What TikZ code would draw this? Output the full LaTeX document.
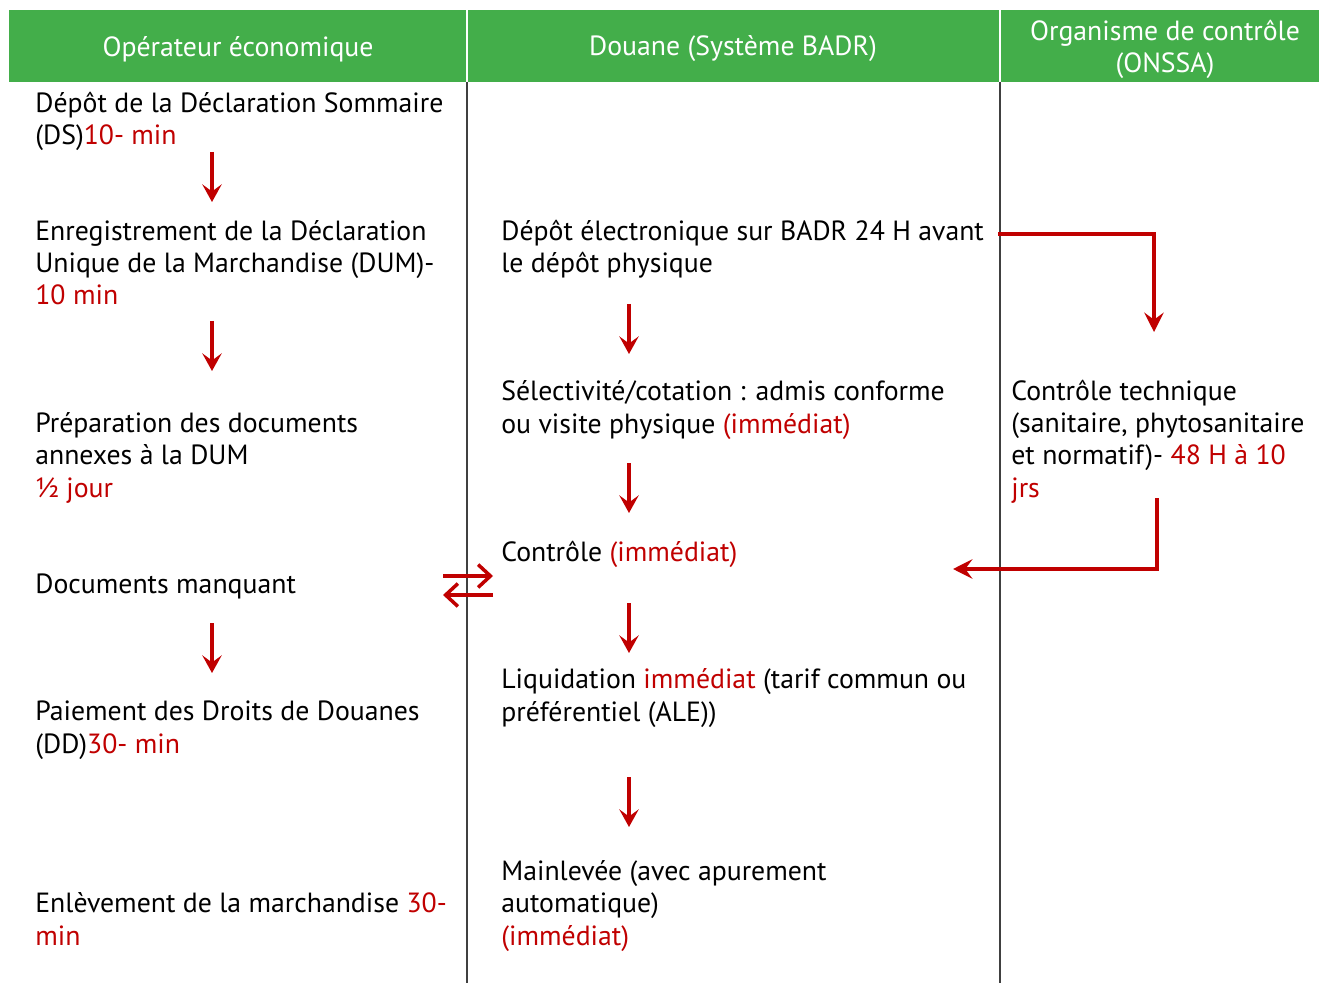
\documentclass[tikz,border=0pt]{standalone}
\usepackage{fontspec}
\setmainfont{PT Sans}
\usetikzlibrary{arrows.meta,positioning}
\definecolor{hdgreen}{HTML}{43AE4A}
\definecolor{tred}{HTML}{C00000}
\newcommand{\tm}[1]{\textcolor{tred}{#1}}
\tikzstyle{txt} = [anchor=base west, inner sep=0pt, align=left,
    font=\fontsize{15.8pt}{18.3pt}\selectfont]
\tikzstyle{hd} = [txt, anchor=center, align=center, text=white]
\tikzstyle{fl} = [draw=tred, line width=2.3pt, -{Stealth[length=10pt,width=11pt,inset=4pt]}]
\tikzstyle{sw} = [draw=tred, line width=2pt, -{Straight Barb[length=7pt,width=13pt]}]
\tikzstyle{el} = [draw=tred, line width=2.8pt, -{Stealth[length=11pt,width=11pt,inset=4pt]}]

\begin{document}
\begin{tikzpicture}[x=0.02cm,y=-0.02cm]
  \useasboundingbox (0,0) rectangle (1319,983);

  % header band and column rules
  \fill[hdgreen] (9,10) rectangle (1319,82);
  \draw[white,line width=1pt] (467,10) -- (467,82) (1000,10) -- (1000,82);
  \draw[black!75,line width=0.8pt] (467,82) -- (467,983) (1000,82) -- (1000,983);

  \node[hd] (h1) at (238,49)  {Opérateur économique};
  \node[hd] (h2) at (733,49)  {Douane (Système BADR)};
  \node[hd] (h3) at (1165,49) {Organisme de contrôle\\(ONSSA)};

  % operateur (base = last line)
  \node[txt] (1) at (35,145) {Dépôt de la Déclaration Sommaire\\(DS)\tm{10- min}};
  \node[txt] (2) at (35,305) {Enregistrement de la Déclaration\\Unique de la Marchandise (DUM)-\\\tm{10 min}};
  \node[txt] (3) at (35,497) {Préparation des documents\\annexes à la DUM\\\tm{½ jour}};
  \node[txt] (4) at (35,593) {Documents manquant};
  \node[txt] (5) at (35,753) {Paiement des Droits de Douanes\\(DD)\tm{30- min}};
  \node[txt] (6) at (35,945) {Enlèvement de la marchandise \tm{30-}\\\tm{min}};

  % douane
  \node[txt] (7)  at (501,273) {Dépôt électronique sur BADR 24 H avant\\le dépôt physique};
  \node[txt] (8)  at (501,433) {Sélectivité/cotation : admis conforme\\ou visite physique \tm{(immédiat)}};
  \node[txt] (9)  at (501,561) {Contrôle \tm{(immédiat)}};
  \node[txt] (10) at (501,721) {Liquidation \tm{immédiat} (tarif commun ou\\préférentiel (ALE))};
  \node[txt] (11) at (501,945) {Mainlevée (avec apurement\\automatique)\\\tm{(immédiat)}};

  % onssa
  \node[txt] (12) at (1011,497) {Contrôle technique\\(sanitaire, phytosanitaire\\et normatif)- \tm{48 H à 10}\\\tm{jrs}};

  % arrow ends
  \coordinate (a1) at (212,152); \coordinate (b1) at (212,202);
  \coordinate (a2) at (212,321); \coordinate (b2) at (212,371);
  \coordinate (a3) at (212,623); \coordinate (b3) at (212,673);
  \coordinate (a4) at (629,304); \coordinate (b4) at (629,354);
  \coordinate (a5) at (629,463); \coordinate (b5) at (629,513);
  \coordinate (a6) at (629,603); \coordinate (b6) at (629,653);
  \coordinate (a7) at (629,777); \coordinate (b7) at (629,827);
  \coordinate (r1) at (443,576); \coordinate (r2) at (493,576);
  \coordinate (l1) at (493,595); \coordinate (l2) at (443,595);
  \coordinate (e1) at (998,234); \coordinate (e2) at (1154,332);
  \coordinate (f1) at (1157,498); \coordinate (f2) at (953,569);

  \path[fl] (a1) -- (b1);
  \path[fl] (a2) -- (b2);
  \path[fl] (a3) -- (b3);
  \path[fl] (a4) -- (b4);
  \path[fl] (a5) -- (b5);
  \path[fl] (a6) -- (b6);
  \path[fl] (a7) -- (b7);
  \path[sw] (r1) -- (r2);
  \path[sw] (l1) -- (l2);
  \path[el] (e1) -| (e2);
  \path[el] (f1) |- (f2);
\end{tikzpicture}
\end{document}
